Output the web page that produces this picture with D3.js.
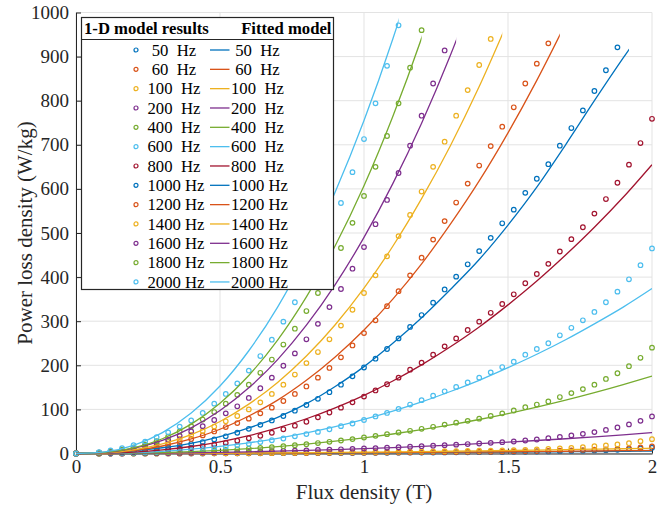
<!DOCTYPE html>
<html>
<head>
<meta charset="utf-8">
<script src="https://cdn.jsdelivr.net/npm/d3@7"></script>
<style>
body { margin: 0; background: #fff; }
svg { display: block; font-family: "Liberation Serif", "Times New Roman", serif; }
</style>
</head>
<body>
<div id="chart"></div>
<script>
// flux density grid of the 1-D model points and of the fitted curves (T)
const fluxB = [0, 0.08, 0.12, 0.16, 0.2, 0.24, 0.28, 0.32, 0.36, 0.4, 0.44, 0.48, 0.52, 0.56, 0.6, 0.64, 0.68, 0.72, 0.76, 0.8,
    0.84, 0.88, 0.92, 0.96, 1.0, 1.04, 1.08, 1.12, 1.16, 1.2, 1.24, 1.28, 1.32, 1.36, 1.4, 1.44, 1.48, 1.52, 1.56, 1.6,
    1.64, 1.68, 1.72, 1.76, 1.8, 1.84, 1.88, 1.92, 1.96, 2.0];
const fitB = [0, 0.1, 0.2, 0.3, 0.4, 0.5, 0.6, 0.7, 0.8, 0.9, 1.0, 1.1, 1.2, 1.3, 1.4, 1.5, 1.6, 1.7, 1.8, 1.9, 2.0];

const freqLabels = [" 50  Hz", " 60  Hz", "100  Hz", "200  Hz", "400  Hz", "600  Hz", "800  Hz",
    "1000 Hz", "1200 Hz", "1400 Hz", "1600 Hz", "1800 Hz", "2000 Hz"];
const seriesColors = ["#0072BD", "#D95319", "#EDB120", "#7E2F8E", "#77AC30", "#4DBEEE", "#A2142F",
    "#0072BD", "#D95319", "#EDB120", "#7E2F8E", "#77AC30", "#4DBEEE"];

// 1-D model results (W/kg)
const model50 = [0, .02, .03, .05, .07, .1, .13, .16, .2, .24, .28, .33, .38, .43, .5, .56, .64, .72, .8, .88, .96, 1.08, 1.2, 1.32, 1.44,
    1.56, 1.68, 1.84, 2.0, 2.16, 2.32, 2.48, 2.64, 2.8, 2.96, 3.2, 3.44, 3.7, 4.0, 4.4, 4.8, 5.3, 5.8, 6.3, 6.9, 7.6, 8.5, 9.7, 11.2, 13];
const model60 = [0, .02, .04, .06, .09, .12, .16, .2, .25, .3, .35, .41, .47, .54, .62, .7, .8, .9, 1.0, 1.1, 1.2, 1.35, 1.5, 1.65, 1.8,
    1.95, 2.1, 2.3, 2.5, 2.7, 2.9, 3.1, 3.3, 3.5, 3.7, 4.0, 4.3, 4.6, 5.0, 5.5, 6.0, 6.6, 7.2, 7.8, 8.5, 9.3, 10.3, 11.8, 13.8, 16];
const model100 = [0, .03, .06, .1, .15, .2, .27, .34, .42, .5, .6, .7, .8, .95, 1.1, 1.25, 1.4, 1.6, 1.8, 2.0, 2.2, 2.45, 2.7, 2.95, 3.2,
    3.5, 3.8, 4.1, 4.4, 4.7, 5.0, 5.3, 5.6, 5.9, 6.2, 6.6, 7.0, 7.5, 8.3, 9.3, 10.2, 11.3, 12.6, 14.3, 16.4, 18.2, 20.4, 23.4, 28, 32.5];
const model200 = [0, .08, .16, .28, .42, .6, .85, 1.1, 1.4, 1.7, 2.1, 2.5, 2.9, 3.4, 3.9, 4.5, 5.1, 5.7, 6.4, 7.1, 7.9, 8.7, 9.5, 10.5, 11.3,
    12.3, 13.3, 14.3, 15.4, 16.5, 17.7, 18.9, 20.1, 21.4, 22.7, 24.1, 25.7, 27.2, 29.5, 31.7, 34.8, 37.8, 41, 44.6, 48.5, 53.5, 59, 66, 74, 84];
const model400 = [0, .2, .4, .7, 1.1, 1.6, 2.2, 2.9, 3.7, 4.6, 5.6, 6.8, 8.1, 9.5, 11, 12.7, 14.5, 16.5, 18.7, 21, 23.7, 26.5, 29.5, 32.6, 36.3,
    40, 43.8, 47.6, 51.5, 56, 60.5, 65.5, 70, 74, 79, 85, 91, 97.5, 105, 111, 118, 128, 137, 146, 156, 169, 182, 198, 217, 240];
const model600 = [0, .3, .6, 1.1, 1.8, 2.7, 3.8, 5, 6.5, 8.5, 10.5, 13, 16, 19, 22, 26, 30, 34, 39, 44, 49, 55, 62, 68, 76,
    84, 92, 101, 111, 121, 131, 141, 151, 161, 172, 184, 196, 208, 224, 237, 250, 268, 285, 302, 321, 343, 367, 395, 427, 465];
const model800 = [0, 1, 1.5, 2.5, 3.5, 5, 6.5, 8.5, 11, 13.5, 16.5, 20, 24, 29, 34.5, 40, 47, 55, 63, 72, 82, 93, 104, 116, 129,
    143, 157, 172, 190, 206, 224, 243, 261, 280, 299, 319, 339, 361, 386, 407, 430, 458, 486, 513, 544, 577, 614, 655, 704, 759];
const model1000 = [0, 1.2, 2.5, 4, 6, 8.5, 11, 14, 17.5, 21.5, 26, 32, 39, 47, 56, 65, 75, 85, 97, 110, 124, 139, 156, 175, 195,
    215, 237, 261, 287, 314, 342, 372, 401, 429, 459, 489, 522, 553, 591, 623, 656, 698, 738, 778, 822, 869, 921];
const model1200 = [0, 1.5, 3, 5, 8, 11, 15, 20, 26, 33, 41, 50, 60, 69, 79, 91, 104, 119, 135, 152, 172, 194, 218, 245, 273,
    302, 334, 368, 404, 444, 485, 527, 569, 612, 653, 697, 741, 785, 839, 884, 930];
const model1400 = [0, 2, 4, 7, 10, 14, 19, 26, 33, 42, 51, 61, 73, 85, 100, 116, 135, 156, 179, 205, 230, 259, 290, 326, 364,
    404, 447, 493, 541, 594, 650, 707, 766, 824, 881, 940];
const model1600 = [0, 2, 4, 8, 12, 17, 23, 31, 40, 50, 62, 76, 91, 107, 126, 148, 172, 199, 227, 259, 294, 332, 373, 419, 468,
    520, 575, 636, 698, 766, 839, 914];
const model1800 = [0, 2, 5, 9, 14, 20, 28, 38, 50, 62, 77, 94, 113, 133, 156, 183, 213, 247, 283, 323, 364, 412, 466, 523, 584,
    650, 720, 794, 875, 960];
const model2000 = [0, 3, 7, 12, 19, 27, 37, 48, 61, 75, 92, 113, 135, 159, 188, 221, 258, 299, 343, 393, 447, 506, 568, 638, 713,
    794, 879, 971];

// fitted model (W/kg) on fitB
const fit50 = [0, .014, .056, .13, .22, .35, .5, .69, .9, 1.13, 1.4, 1.69, 2.02, 2.37, 2.74, 3.15, 3.58, 4.05, 4.54, 5.05, 5.6];
const fit60 = [0, .02, .07, .16, .28, .44, .63, .86, 1.12, 1.42, 1.75, 2.12, 2.52, 2.96, 3.43, 3.94, 4.48, 5.06, 5.67, 6.32, 7.0];
const fit100 = [0, .03, .12, .27, .48, .75, 1.08, 1.47, 1.92, 2.43, 3.0, 3.63, 4.32, 5.07, 5.88, 6.75, 7.68, 8.67, 9.72, 10.8, 12];
const fit200 = [0, .09, .37, .88, 1.6, 2.57, 3.76, 5.2, 6.9, 8.8, 11, 13.4, 16.1, 19.1, 22.3, 25.8, 29.5, 33.5, 37.8, 42.3, 47.2];
const fit400 = [0, .18, .88, 2.2, 4.3, 7.2, 10.9, 15.6, 21.2, 27.9, 35.5, 44.2, 54, 65, 77.1, 90.5, 105, 120.8, 137.8, 156.1, 175.6];
const fit600 = [0, .42, 2.0, 5.0, 9.7, 16.1, 24.3, 34.5, 46.7, 61, 77.5, 96.2, 117, 140.6, 166, 194.6, 225, 258, 294, 332, 374];
const fit800 = [0, .65, 3.2, 8.2, 15.9, 26.6, 40.6, 58, 78.8, 103.5, 132, 164.5, 201, 242, 287, 337, 391, 450, 513, 581, 655];
const fit1000 = [0, 1.5, 6, 13, 23, 38, 58, 82, 113, 152, 197, 250, 308, 372, 440, 518, 604, 700, 800, 897, 990];
const fit1200 = [0, 1.3, 6.5, 17, 33, 55, 85, 121, 166, 219, 280, 350, 430, 520, 618, 727, 846, 975];
const fit1400 = [0, 1.6, 8.3, 21.6, 42.7, 72.6, 112, 161, 221, 292, 375, 470, 578, 698, 832, 980];
const fit1600 = [0, 2.3, 11.5, 29.6, 58, 97.5, 149, 213, 291, 383, 490, 612, 749, 903, 1074];
const fit1800 = [0, 2.4, 12.6, 33.4, 66.6, 114, 177, 257, 355, 471, 607, 764, 942, 1142];
const fit2000 = [0, 3.8, 18.6, 47.4, 91.8, 153, 233, 332, 452, 593, 755, 940, 1149];
// last flux density of each fitted curve
const fitEnd = [2, 2, 2, 2, 2, 2, 2, 1.92, 1.68, 1.48, 1.32, 1.2, 1.12];

const xTicks = [0, 0.5, 1, 1.5, 2];
const yTicks = [0, 100, 200, 300, 400, 500, 600, 700, 800, 900, 1000];

const modelSeries = [model50, model60, model100, model200, model400, model600, model800,
    model1000, model1200, model1400, model1600, model1800, model2000];
const fitSeries = [fit50, fit60, fit100, fit200, fit400, fit600, fit800,
    fit1000, fit1200, fit1400, fit1600, fit1800, fit2000];

document.addEventListener("DOMContentLoaded", draw)

function draw(){
    const width = 671;
    const height = 512;
    const svg = d3.select("#chart").append("svg")
        .attr("width", width)
        .attr("height", height);

    const x = d3.scaleLinear().domain([0, 2]).range([76, 652]);
    const y = d3.scaleLinear().domain([0, 1000]).range([453.5, 12.5]);

    // grid
    const grid = svg.append("g").attr("stroke", "#e3e3e3").attr("stroke-width", 1);
    grid.selectAll("line.h").data(yTicks).enter().append("line")
        .attr("class", "h")
        .attr("x1", x(0)).attr("x2", x(2))
        .attr("y1", d => y(d)).attr("y2", d => y(d));
    grid.selectAll("line.v").data(xTicks).enter().append("line")
        .attr("class", "v")
        .attr("x1", d => x(d)).attr("x2", d => x(d))
        .attr("y1", y(0)).attr("y2", y(1000));

    // axes (ticks point inward)
    const xAxis = svg.append("g")
        .attr("transform", "translate(0," + y(0) + ")")
        .call(d3.axisBottom(x).tickValues(xTicks).tickFormat(d3.format("~g"))
            .tickSizeInner(-5).tickSizeOuter(0).tickPadding(6));
    const yAxis = svg.append("g")
        .attr("transform", "translate(" + x(0) + ",0)")
        .call(d3.axisLeft(y).tickValues(yTicks).tickFormat(d3.format("d"))
            .tickSizeInner(-5).tickSizeOuter(0).tickPadding(7));
    [xAxis, yAxis].forEach(a => {
        a.attr("font-family", null).attr("font-size", null);
        a.selectAll("path,line").attr("stroke", "#262626");
        a.selectAll("text").attr("fill", "#262626")
            .style("font-size", "19px");
    });

    svg.append("text")
        .attr("x", 364).attr("y", 499)
        .attr("text-anchor", "middle")
        .attr("fill", "#262626")
        .style("font-size", "21px")
        .text("Flux density (T)");
    svg.append("text")
        .attr("transform", "translate(32,233) rotate(-90)")
        .attr("text-anchor", "middle")
        .attr("fill", "#262626")
        .style("font-size", "21px")
        .text("Power loss density (W/kg)");

    // 1-D model markers
    modelSeries.forEach((values, i) => {
        const pts = values.map((p, j) => ({b: fluxB[j], p: p}));
        svg.append("g")
            .selectAll("circle")
            .data(pts)
            .enter()
            .append("circle")
            .attr("cx", d => x(d.b))
            .attr("cy", d => y(d.p))
            .attr("r", 2.3)
            .attr("fill", "none")
            .attr("stroke", seriesColors[i])
            .attr("stroke-width", 1.2);
    });

    // fitted curves
    const defs = svg.append("defs");
    const line = d3.line()
        .x(d => x(d.b))
        .y(d => y(d.p))
        .curve(d3.curveMonotoneX);
    fitSeries.forEach((values, i) => {
        defs.append("clipPath").attr("id", "clip" + i)
            .append("rect")
            .attr("x", x(0) - 2).attr("y", 0)
            .attr("width", x(fitEnd[i]) - x(0) + 2)
            .attr("height", y(0) + 4);
        const pts = values.map((p, j) => ({b: fitB[j], p: p}));
        svg.append("path")
            .datum(pts)
            .attr("clip-path", "url(#clip" + i + ")")
            .attr("d", line)
            .attr("fill", "none")
            .attr("stroke", seriesColors[i])
            .attr("stroke-width", 1.3);
    });

    drawLegend(svg);
}

function drawLegend(svg){
    const lg = svg.append("g");
    lg.append("rect")
        .attr("x", 81.5).attr("y", 17.5)
        .attr("width", 252).attr("height", 272)
        .attr("fill", "#fff")
        .attr("stroke", "#262626")
        .attr("stroke-width", 1.2);
    lg.append("text")
        .attr("x", 84).attr("y", 34)
        .style("font-size", "16.7px").style("font-weight", "bold")
        .text("1-D model results");
    lg.append("text")
        .attr("x", 331.5).attr("y", 34)
        .attr("text-anchor", "end")
        .style("font-size", "16.7px").style("font-weight", "bold")
        .text("Fitted model");
    lg.append("line")
        .attr("x1", 81.5).attr("x2", 333.5)
        .attr("y1", 39.5).attr("y2", 39.5)
        .attr("stroke", "#262626");

    const rows = lg.selectAll("g.row")
        .data(freqLabels)
        .enter()
        .append("g")
        .attr("class", "row")
        .attr("transform", (d, i) => "translate(0," + (50 + i * 19.33) + ")");
    rows.append("circle")
        .attr("cx", 136).attr("cy", 0).attr("r", 2)
        .attr("fill", "none")
        .attr("stroke", (d, i) => seriesColors[i])
        .attr("stroke-width", 1.2);
    rows.append("text")
        .attr("x", 147.5).attr("y", 5.8)
        .style("font-size", "16.7px").style("white-space", "pre")
        .text(d => d);
    rows.append("line")
        .attr("x1", 210).attr("x2", 229.5)
        .attr("y1", 0).attr("y2", 0)
        .attr("stroke", (d, i) => seriesColors[i])
        .attr("stroke-width", 1.3);
    rows.append("text")
        .attr("x", 231).attr("y", 5.8)
        .style("font-size", "16.7px").style("white-space", "pre")
        .text(d => d);
}
</script>
</body>
</html>
